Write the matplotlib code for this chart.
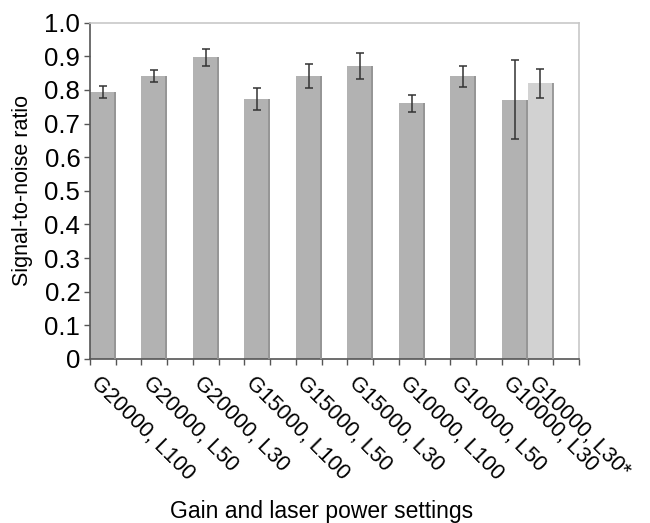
"""Signal-to-noise ratio per gain / laser power setting."""
import matplotlib
matplotlib.use("Agg")
import matplotlib.pyplot as plt
import numpy as np

plt.rcParams["font.family"] = ["Liberation Sans", "DejaVu Sans"]

labels = ["G20000, L100", "G20000, L50", "G20000, L30",
          "G15000, L100", "G15000, L50", "G15000, L30",
          "G10000, L100", "G10000, L50", "G10000, L30", "G10000, L30*"]
snr = [0.795, 0.841, 0.897, 0.773, 0.841, 0.872, 0.760, 0.841, 0.771, 0.820]
err = [0.018, 0.017, 0.025, 0.032, 0.036, 0.039, 0.025, 0.031, 0.118, 0.043]
# slot index on the category axis (19 slots, last pair adjacent)
slots = [0, 2, 4, 6, 8, 10, 12, 14, 16, 17]
colors = ["#b2b2b2"] * 9 + ["#d2d2d2"]

fig = plt.figure(figsize=(6.5, 5.23), dpi=100)
ax = fig.add_axes([0.1385, 0.3136, 0.7523, 0.643])

x = np.array(slots, dtype=float)
ax.bar(x, snr, width=1.0, color=colors, edgecolor="none", zorder=2)
# darker right-hand edge of each bar
ax.vlines(x + 0.47, 0, snr, color="#939393", lw=1.3, zorder=3)
ax.errorbar(x, snr, yerr=err, fmt="none", ecolor="#333333",
            elinewidth=1.1, capsize=3, capthick=1.1, zorder=4)

ax.set_xlim(-0.5, 18.5)
ax.set_ylim(0, 1.0)
ax.set_yticks(np.arange(0, 1.01, 0.1))
ax.set_yticklabels(["0"] + [f"{v:.1f}" for v in np.arange(0.1, 1.01, 0.1)])
ax.tick_params(axis="y", labelsize=18.5, length=4, width=1, color="#555555", pad=3)

ax.set_xticks(np.arange(-0.5, 18.6, 1.0))
ax.set_xticklabels([])
ax.tick_params(axis="x", length=4, width=1, color="#555555")
for xi, lab in zip(x, labels):
    ax.text(xi - 0.05, -0.04, lab, rotation=-45, rotation_mode="anchor",
            ha="left", va="top", fontsize=15.5, transform=ax.get_xaxis_transform())

for side in ("left", "bottom"):
    ax.spines[side].set_color("#555555")
    ax.spines[side].set_linewidth(1.2)
for side in ("top", "right"):
    ax.spines[side].set_color("#c8c8c8")
    ax.spines[side].set_linewidth(1.2)

ax.set_ylabel("Signal-to-noise ratio", fontsize=15.5, labelpad=8)
fig.text(0.495, 0.022, "Gain and laser power settings", ha="center", va="center", fontsize=16.5)

fig.savefig("out.png", dpi=100)
